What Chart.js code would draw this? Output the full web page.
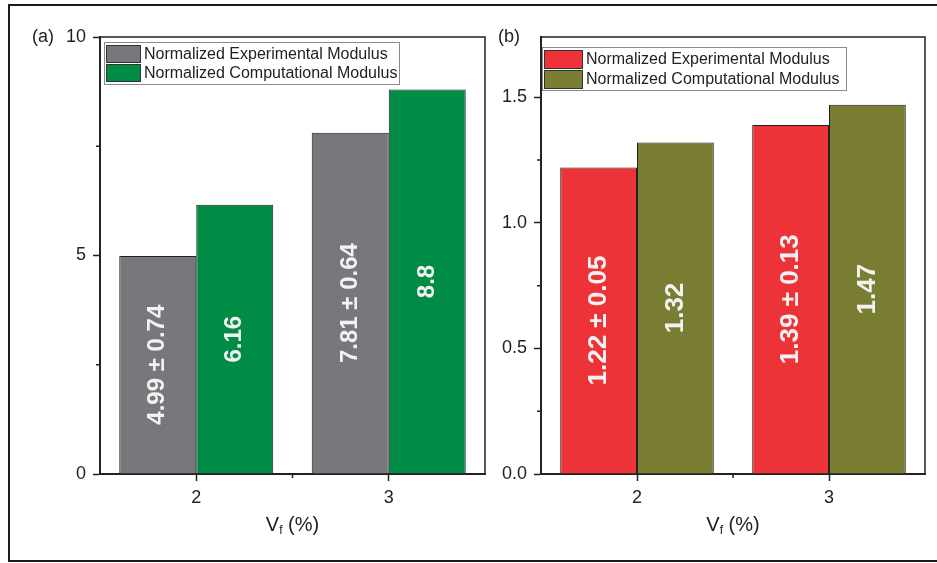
<!DOCTYPE html>
<html>
<head>
<meta charset="utf-8">
<script src="https://cdn.jsdelivr.net/npm/chart.js@4.4.1/dist/chart.umd.min.js"></script>
<style>
  html, body { margin: 0; padding: 0; background: #fff; }
  body { width: 937px; height: 563px; position: relative; overflow: hidden; }
  .frame { position: absolute; left: 8px; top: 4px; width: 960px; height: 558px; box-sizing: border-box; border: 2px solid #1c1c1c; }
  canvas { position: absolute; left: 0; top: 0; }
</style>
</head>
<body>
<div class="frame"></div>
<canvas id="chartA" width="937" height="563"></canvas>
<canvas id="chartB" width="937" height="563"></canvas>
<script>
// Fibre volume fraction (%)
const VF = ['2', '3'];

// (a) normalized modulus
const expModA = [4.99, 7.81];
const expErrA = [0.74, 0.64];
const compModA = [6.16, 8.8];

// (b) normalized modulus
const expModB = [1.22, 1.39];
const expErrB = [0.05, 0.13];
const compModB = [1.32, 1.47];

const FONT = '"Liberation Sans", Arial, Helvetica, sans-serif';
Chart.defaults.font.family = FONT;
Chart.defaults.color = '#222';

const pm = (v, e) => v.map((x, i) => `${x} \u00b1 ${e[i]}`);

// top/right box lines + minor ticks between the major ones
const frameLines = {
  id: 'frameLines',
  afterDraw(chart) {
    const { ctx, chartArea: a, scales } = chart;
    ctx.save();
    ctx.strokeStyle = '#222';
    ctx.lineWidth = 1.5;
    ctx.beginPath();
    ctx.moveTo(a.left, a.top); ctx.lineTo(a.right, a.top); ctx.lineTo(a.right, a.bottom);
    ctx.stroke();
    ctx.beginPath();
    const vals = scales.y.ticks.map(t => t.value);
    for (let i = 0; i < vals.length - 1; i++) {
      const py = scales.y.getPixelForValue((vals[i] + vals[i + 1]) / 2);
      ctx.moveTo(a.left - 4, py); ctx.lineTo(a.left, py);
    }
    for (let i = 0; i < chart.data.labels.length - 1; i++) {
      const px = scales.x.getPixelForValue(i + 0.5);
      ctx.moveTo(px, a.bottom); ctx.lineTo(px, a.bottom + 4);
    }
    ctx.stroke();
    ctx.restore();
  }
};

// rotated value text inside each bar
const barLabels = {
  id: 'barLabels',
  afterDatasetsDraw(chart, args, o) {
    const { ctx } = chart;
    ctx.save();
    ctx.font = `bold ${o.size}px ${FONT}`;
    ctx.fillStyle = o.color;
    ctx.textAlign = 'center';
    ctx.textBaseline = 'middle';
    chart.data.datasets.forEach((ds, di) => {
      chart.getDatasetMeta(di).data.forEach((bar, i) => {
        ctx.save();
        ctx.translate(bar.x, (bar.y + bar.base) / 2);
        ctx.rotate(-Math.PI / 2);
        ctx.fillText(o.texts[di][i], 0, 0);
        ctx.restore();
      });
    });
    ctx.restore();
  }
};

// boxed legend in the upper-left corner of the plot
const boxLegend = {
  id: 'boxLegend',
  afterDraw(chart, args, o) {
    const { ctx, chartArea: a } = chart;
    const x0 = Math.round(a.left + o.dx), y0 = Math.round(a.top + o.dy);
    ctx.save();
    ctx.fillStyle = '#fff';
    ctx.fillRect(x0, y0, o.w, o.h);
    ctx.strokeStyle = '#8a8a8a';
    ctx.lineWidth = 1;
    ctx.strokeRect(x0 + 0.5, y0 + 0.5, o.w, o.h);
    ctx.font = `${o.size}px ${FONT}`;
    ctx.textAlign = 'left';
    ctx.textBaseline = 'middle';
    chart.data.datasets.forEach((ds, i) => {
      const ry = y0 + 3 + i * o.rowH;
      ctx.fillStyle = ds.backgroundColor;
      ctx.fillRect(x0 + 2, ry, o.swW, o.rowH - 2);
      ctx.strokeStyle = '#333';
      ctx.strokeRect(x0 + 2.5, ry + 0.5, o.swW, o.rowH - 2);
      ctx.fillStyle = '#222';
      ctx.fillText(ds.label, x0 + o.swW + 6, ry + (o.rowH - 2) / 2 + 1);
    });
    ctx.restore();
  }
};

// x title "V_f (%)" and the panel tag
const titles = {
  id: 'titles',
  afterDraw(chart, args, o) {
    const { ctx, chartArea: a } = chart;
    ctx.save();
    ctx.fillStyle = '#222';
    ctx.textBaseline = 'middle';
    ctx.textAlign = 'left';
    const big = `${o.size}px ${FONT}`, small = `${Math.round(o.size * 0.62)}px ${FONT}`;
    ctx.font = big;
    const wV = ctx.measureText('V').width, wR = ctx.measureText(' (%)').width;
    ctx.font = small;
    const wF = ctx.measureText('f').width;
    let x = (a.left + a.right) / 2 - (wV + wF + wR) / 2;
    const y = a.bottom + o.dy;
    ctx.font = big; ctx.fillText('V', x, y); x += wV;
    ctx.font = small; ctx.fillText('f', x, y + 6); x += wF;
    ctx.font = big; ctx.fillText(' (%)', x, y);
    ctx.font = `18px ${FONT}`;
    ctx.fillText(o.tag, a.left + o.tagDx, a.top);
    ctx.restore();
  }
};

function axisCfg(extra) {
  return Object.assign({
    grid: { drawOnChartArea: false, tickLength: 7, tickWidth: 1.5, tickColor: '#222' },
    border: { color: '#222', width: 2 }
  }, extra);
}

function makePanel(id, cfg) {
  return new Chart(document.getElementById(id), {
    type: 'bar',
    data: {
      labels: VF,
      datasets: [
        { label: 'Normalized Experimental Modulus', data: cfg.exp, backgroundColor: cfg.colors[0] },
        { label: 'Normalized Computational Modulus', data: cfg.comp, backgroundColor: cfg.colors[1] }
      ]
    },
    options: {
      responsive: false,
      animation: false,
      devicePixelRatio: 1,
      datasets: { bar: { categoryPercentage: 0.8, barPercentage: 1.0, borderWidth: 1, borderColor: '#222' } },
      layout: { padding: cfg.padding },
      plugins: {
        legend: { display: false },
        tooltip: { enabled: false },
        barLabels: { size: cfg.labelSize, color: '#f2f2f2', texts: [pm(cfg.exp, cfg.err), cfg.comp.map(String)] },
        boxLegend: cfg.legend,
        titles: { size: 20, dy: 51, tag: cfg.tag, tagDx: cfg.tagDx }
      },
      scales: {
        x: axisCfg({
          offset: true,
          grid: { offset: false, drawOnChartArea: false, tickLength: 7, tickWidth: 1.5, tickColor: '#222' },
          ticks: { font: { size: 18 }, color: '#222', padding: 6 },
          afterFit: s => { s.height = 60; }
        }),
        y: axisCfg({
          min: 0, max: cfg.yMax,
          ticks: { stepSize: cfg.step, includeBounds: false, font: { size: 18 }, color: '#222', padding: 7,
                   callback: v => cfg.fmt(v) },
          afterFit: s => { s.width = 60; }
        })
      }
    },
    plugins: [barLabels, frameLines, boxLegend, titles]
  });
}

makePanel('chartA', {
  exp: expModA, err: expErrA, comp: compModA,
  colors: ['#77787b', '#008c45'],
  yMax: 10, step: 5, fmt: v => String(v),
  padding: { left: 40, right: 452, top: 37, bottom: 29 },
  labelSize: 24,
  legend: { dx: 4, dy: 5, w: 295, h: 42, swW: 34, rowH: 19, size: 16 },
  tag: '(a)', tagDx: -68
});

makePanel('chartB', {
  exp: expModB, err: expErrB, comp: compModB,
  colors: ['#ee3338', '#7a7e32'],
  yMax: 1.74, step: 0.5, fmt: v => v.toFixed(1),
  padding: { left: 481, right: 12, top: 37, bottom: 29 },
  labelSize: 26,
  legend: { dx: 1, dy: 10, w: 304, h: 43, swW: 38, rowH: 20, size: 16 },
  tag: '(b)', tagDx: -43
});
</script>
</body>
</html>
